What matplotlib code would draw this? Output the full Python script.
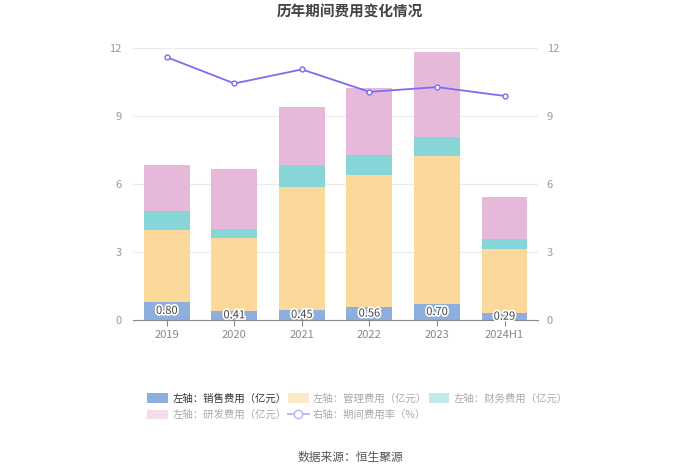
import matplotlib.pyplot as plt
import numpy as np
from matplotlib.lines import Line2D
from matplotlib.patches import Patch
import matplotlib.patheffects as pe

plt.rcParams['font.family'] = ['Noto Sans CJK SC', 'DejaVu Sans']

# 数据
years = ["2019", "2020", "2021", "2022", "2023", "2024H1"]
sales = [0.80, 0.41, 0.45, 0.56, 0.70, 0.29]        # 销售费用
mgmt = [3.17, 3.19, 5.43, 5.84, 6.53, 2.84]         # 管理费用
finance = [0.83, 0.41, 0.96, 0.88, 0.86, 0.44]      # 财务费用
rnd = [2.05, 2.65, 2.57, 2.94, 3.75, 1.87]          # 研发费用
rate = [11.59, 10.43, 11.05, 10.06, 10.27, 9.88]    # 期间费用率 (%)

c_sales = "#8eaede"
c_mgmt = "#fdd89b"
c_fin = "#86d6d8"
c_rnd = "#e6b8da"
c_line = "#7b6ef0"

fig = plt.figure(figsize=(7, 4.74), dpi=100)
ax = fig.add_axes([0.19, 0.325, 0.579, 0.574])
x = np.arange(len(years))
w = 0.68

b1 = np.array(sales)
b2 = b1 + np.array(mgmt)
b3 = b2 + np.array(finance)
ax.bar(x, sales, w, color=c_sales, zorder=2)
ax.bar(x, mgmt, w, bottom=b1, color=c_mgmt, zorder=2)
ax.bar(x, finance, w, bottom=b2, color=c_fin, zorder=2)
ax.bar(x, rnd, w, bottom=b3, color=c_rnd, zorder=2)

for xi, v in zip(x, sales):
    ax.text(xi, v / 2, f"{v:.2f}", ha="center", va="center", fontsize=8,
            color="#444444", zorder=4,
            path_effects=[pe.withStroke(linewidth=2.5, foreground="white")])

ax.set_xlim(-0.5, len(years) - 0.5)
ax.set_ylim(0, 12)
ax.set_yticks([0, 3, 6, 9, 12])
ax.set_xticks(x)
ax.set_xticklabels(years)
ax.grid(axis="y", color="#ebebeb", linewidth=0.8, zorder=0)
for s in ["top", "right", "left"]:
    ax.spines[s].set_visible(False)
ax.spines["bottom"].set_color("#888888")
ax.tick_params(axis="y", length=0, colors="#999999", labelsize=8, pad=8)
ax.tick_params(axis="x", length=4, color="#888888", colors="#888888", labelsize=8)

ax2 = ax.twinx()
ax2.plot(x, rate, color=c_line, linewidth=1.3, marker="o", markersize=3.5,
         markerfacecolor="white", markeredgecolor=c_line, markeredgewidth=1.0, zorder=5)
ax2.set_ylim(0, 12)
ax2.set_yticks([0, 3, 6, 9, 12])
for s in ["top", "right", "left", "bottom"]:
    ax2.spines[s].set_visible(False)
ax2.tick_params(axis="y", length=0, colors="#999999", labelsize=8, pad=6)

fig.text(0.5, 0.975, "历年期间费用变化情况", ha="center", va="center",
         fontsize=10.5, fontweight="bold", color="#444444")
fig.text(0.5, 0.035, "数据来源：恒生聚源", ha="center", va="center",
         fontsize=8.5, color="#555555")

handles = [
    Patch(facecolor=c_sales),
    Patch(facecolor="#fde8c8"),
    Patch(facecolor="#c0e9ea"),
    Patch(facecolor="#f3dcec"),
    Line2D([0], [0], color="#b9b2f6", marker="o", markersize=6,
           markerfacecolor="white", markeredgecolor="#b9b2f6", linewidth=1.3),
]
labels = ["左轴：销售费用（亿元）", "左轴：管理费用（亿元）", "左轴：财务费用（亿元）",
          "左轴：研发费用（亿元）", "右轴：期间费用率（%）"]
order = [0, 3, 1, 4, 2]
leg = fig.legend([handles[i] for i in order], [labels[i] for i in order],
                 ncol=3, loc="upper left", bbox_to_anchor=(0.197, 0.19),
                 frameon=False, fontsize=7.5, handlelength=2.0, handleheight=1.0,
                 columnspacing=0.15, handletextpad=0.4, labelspacing=0.6)
for t, i in zip(leg.get_texts(), order):
    t.set_color("#333333" if i == 0 else "#aaaaaa")

fig.savefig("out.png", dpi=100)
